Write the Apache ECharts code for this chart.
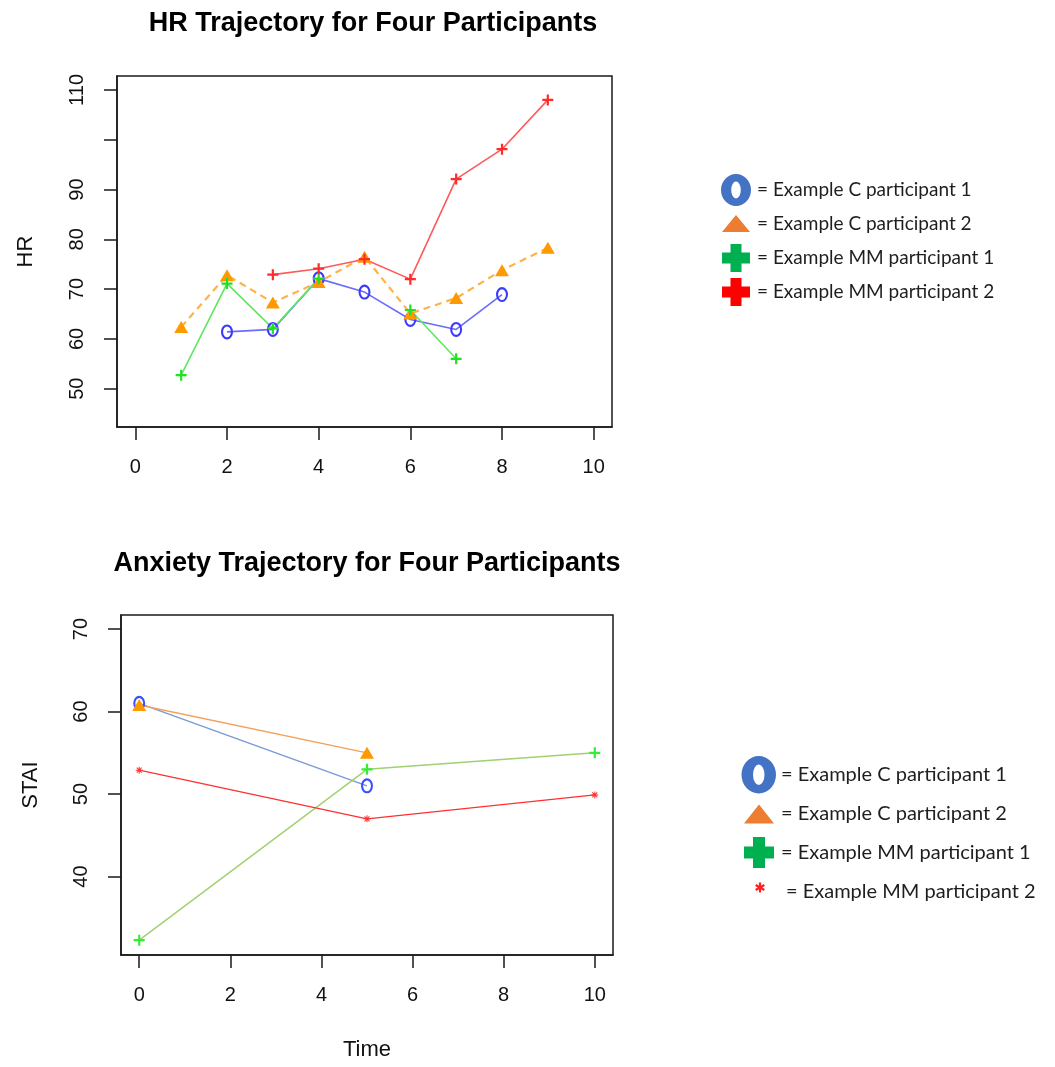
<!DOCTYPE html>
<html>
<head>
<meta charset="utf-8">
<title>HR and Anxiety Trajectory</title>
<script src="https://cdn.jsdelivr.net/npm/echarts@6/dist/echarts.min.js"></script>
<style>
    html, body { margin: 0; padding: 0; background: #fff; }
    #chart { width: 1055px; height: 1067px; }
</style>
</head>
<body>
<div id="chart"></div>
<script>
// series names (shared by both panels)
const names = [
    'Example C participant 1',
    'Example C participant 2',
    'Example MM participant 1',
    'Example MM participant 2'
];

// HR panel, time points 1..9 (null = no measure)
const hrTime = [1, 2, 3, 4, 5, 6, 7, 8, 9];
const hrC1 = [null, 61.4, 61.9, 72.1, 69.4, 63.9, 61.9, 68.9, null];
const hrC2 = [62.4, 72.8, 67.3, 71.4, 76.5, 65.1, 68.2, 73.8, 78.3];
const hrMM1 = [52.7, 71.1, 62.1, 72.1, null, 65.8, 56.0, null, null];
const hrMM2 = [null, null, 72.9, 74.1, 76.0, 72.0, 92.1, 98.1, 108.0];

// anxiety panel, time points 0, 5, 10
const anxTime = [0, 5, 10];
const anxC1 = [61.0, 51.0, null];
const anxC2 = [60.8, 55.0, null];
const anxMM1 = [32.3, 53.0, 55.0];
const anxMM2 = [52.9, 47.0, 49.9];

// tick labels
const timeTicks = [0, 2, 4, 6, 8, 10];
const hrTicks = [50, 60, 70, 80, 90, 100, 110];
const hrTickLabels = [50, 60, 70, 80, 90, 110];
const staiTicks = [40, 50, 60, 70];

const R_FONT = '"Liberation Sans", Arial, sans-serif';
const AXIS_COLOR = '#1a1a1a';

// --- little path helpers for the marker / legend shapes ---
const ellipse = (cx, cy, rx, ry, sweep) =>
    `M${cx - rx},${cy} A${rx},${ry} 0 1,${sweep} ${cx + rx},${cy} A${rx},${ry} 0 1,${sweep} ${cx - rx},${cy} Z`;

const ring = (cx, cy, rx, ry, irx, iry) => ellipse(cx, cy, rx, ry, 1) + ' ' + ellipse(cx, cy, irx, iry, 0);

const bar = (cx, cy, r, w, deg) => {
    const a = deg * Math.PI / 180;
    const dx = Math.cos(a), dy = Math.sin(a);
    const nx = -dy, ny = dx;
    const pts = [
        [cx - r * dx - w * nx, cy - r * dy - w * ny],
        [cx + r * dx - w * nx, cy + r * dy - w * ny],
        [cx + r * dx + w * nx, cy + r * dy + w * ny],
        [cx - r * dx + w * nx, cy - r * dy + w * ny]
    ];
    return 'M' + pts.map(p => p[0].toFixed(2) + ',' + p[1].toFixed(2)).join(' L') + ' Z';
};

const cross = (x0, y0, x1, y1, t) => {
    const mx = (x0 + x1) / 2, my = (y0 + y1) / 2;
    const a = mx - t / 2, b = mx + t / 2, c = my - t / 2, d = my + t / 2;
    return `M${a},${y0} L${b},${y0} L${b},${c} L${x1},${c} L${x1},${d} L${b},${d} L${b},${y1} L${a},${y1} L${a},${d} L${x0},${d} L${x0},${c} L${a},${c} Z`;
};

// invisible corner points so every legend icon keeps the same box
const box = (w, h) => `M0,0 L0,0 Z M${w},${h} L${w},${h} Z `;

const markO = 'path://' + ring(6, 7.5, 6, 7.5, 3.9, 5.4);
const markPlus = 'path://' + cross(0, 0, 10, 10, 2);
const markStar = 'path://' + [0, 45, 90, 135].map(d => bar(5, 5, 5, 0.7, d)).join(' ');

const pairs = (xs, ys) => xs.map((x, i) => [x, ys[i]]);

const lineSeries = (name, idx, xs, ys, opt) => ({
    name,
    type: 'line',
    xAxisIndex: idx,
    yAxisIndex: idx,
    data: pairs(xs, ys),
    symbol: opt.symbol,
    symbolSize: opt.size,
    showSymbol: true,
    connectNulls: false,
    itemStyle: { color: opt.mark, borderWidth: 0 },
    lineStyle: { color: opt.line, width: opt.width || 1.6, type: opt.dash || 'solid' },
    emphasis: { disabled: true },
    z: opt.z || 2
});

const makeXAxis = (gridIndex, name) => ({
    type: 'value',
    gridIndex,
    min: -0.4,
    max: 10.4,
    name: name || '',
    nameLocation: 'middle',
    nameGap: 84,
    nameTextStyle: { fontFamily: R_FONT, fontSize: 22, color: '#111' },
    axisLine: { show: true, onZero: false, lineStyle: { color: AXIS_COLOR, width: 1.5 } },
    axisTick: { show: true, length: 13, customValues: timeTicks, lineStyle: { color: AXIS_COLOR, width: 1.5 } },
    axisLabel: { customValues: timeTicks, margin: 30, fontFamily: R_FONT, fontSize: 20, color: '#111' },
    splitLine: { show: false }
});

const makeYAxis = (gridIndex, name, min, max, ticks, labels, gap) => ({
    type: 'value',
    gridIndex,
    min,
    max,
    name,
    nameLocation: 'middle',
    nameGap: gap,
    nameTextStyle: { fontFamily: R_FONT, fontSize: 22, color: '#111' },
    axisLine: { show: true, onZero: false, lineStyle: { color: AXIS_COLOR, width: 1.5 } },
    axisTick: { show: true, length: 13, customValues: ticks, lineStyle: { color: AXIS_COLOR, width: 1.5 } },
    axisLabel: { customValues: labels, rotate: 90, margin: 30, fontFamily: R_FONT, fontSize: 20, color: '#111' },
    splitLine: { show: false }
});

const legendText = size => ({ fontFamily: 'Lato, "Open Sans", sans-serif', fontSize: size, color: '#1e1e1e' });

const chart = echarts.init(document.getElementById('chart'));

chart.setOption({
    animation: false,
    backgroundColor: '#fff',
    title: [
        {
            text: 'HR Trajectory for Four Participants',
            left: 373, top: 10, textAlign: 'center', padding: 0,
            textStyle: { fontFamily: R_FONT, fontWeight: 'bold', fontSize: 27, color: '#000' }
        },
        {
            text: 'Anxiety Trajectory for Four Participants',
            left: 367, top: 550, textAlign: 'center', padding: 0,
            textStyle: { fontFamily: R_FONT, fontWeight: 'bold', fontSize: 27, color: '#000' }
        }
    ],
    grid: [
        { left: 117, top: 76, width: 495, height: 351, show: true, borderColor: AXIS_COLOR, borderWidth: 1.5, containLabel: false },
        { left: 121, top: 615, width: 492, height: 340, show: true, borderColor: AXIS_COLOR, borderWidth: 1.5, containLabel: false }
    ],
    xAxis: [makeXAxis(0), makeXAxis(1, 'Time')],
    yAxis: [
        makeYAxis(0, 'HR', 42.3, 112.8, hrTicks, hrTickLabels, 80),
        makeYAxis(1, 'STAI', 30.5, 71.7, staiTicks, staiTicks, 79)
    ],
    legend: [
        {
            orient: 'vertical',
            left: 719,
            top: 174,
            itemWidth: 33,
            itemHeight: 32,
            itemGap: 2,
            selectedMode: false,
            padding: 0,
            formatter: n => '= ' + n,
            textStyle: legendText(19),
            itemStyle: { borderWidth: 0 },
            data: [
                { name: names[0], icon: 'path://' + box(33, 32) + ring(17, 16, 15, 16, 4.8, 8.5), itemStyle: { color: '#4472c4' } },
                { name: names[1], icon: 'path://' + box(33, 32) + 'M3,24 L17,7 L31,24 Z', itemStyle: { color: '#ed7d31' } },
                { name: names[2], icon: 'path://' + box(33, 32) + cross(3, 2, 31, 30, 11), itemStyle: { color: '#00b050' } },
                { name: names[3], icon: 'path://' + box(33, 32) + cross(3, 2, 31, 30, 11), itemStyle: { color: '#ff0000' } }
            ]
        },
        {
            orient: 'vertical',
            left: 741,
            top: 756,
            itemWidth: 35,
            itemHeight: 38,
            itemGap: 1,
            selectedMode: false,
            padding: 0,
            formatter: n => '= ' + n,
            textStyle: legendText(20),
            itemStyle: { borderWidth: 0 },
            data: [
                { name: names[0], icon: 'path://' + box(35, 38) + ring(18, 19, 17.5, 19, 5.8, 10.5), itemStyle: { color: '#4472c4' } },
                { name: names[1], icon: 'path://' + box(35, 38) + 'M3,29 L18,10 L33,29 Z', itemStyle: { color: '#ed7d31' } },
                { name: names[2], icon: 'path://' + box(35, 38) + cross(3, 3.5, 33, 34.5, 12), itemStyle: { color: '#00b050' } },
                {
                    name: names[3],
                    icon: 'path://' + box(35, 38) + [90, 30, 150].map(d => bar(19, 15, 5, 1.1, d)).join(' '),
                    itemStyle: { color: '#ff2020' },
                    textStyle: { padding: [10, 0, 0, 5] }
                }
            ]
        }
    ],
    series: [
        // HR panel
        lineSeries(names[0], 0, hrTime, hrC1, { symbol: markO, size: [12, 15], mark: '#3a3aff', line: '#6b6bff' }),
        lineSeries(names[1], 0, hrTime, hrC2, { symbol: 'triangle', size: [14, 12], mark: '#ff9900', line: '#ffb347', width: 2.2, dash: [7, 5] }),
        lineSeries(names[2], 0, hrTime, hrMM1, { symbol: markPlus, size: 11, mark: '#22e022', line: '#5ee85e' }),
        lineSeries(names[3], 0, hrTime, hrMM2, { symbol: markPlus, size: 11, mark: '#ff2a2a', line: '#ff5a5a' }),
        // anxiety panel
        lineSeries(names[0], 1, anxTime, anxC1, { symbol: markO, size: [12, 15], mark: '#3a50ff', line: '#7a9ad6', width: 1.4 }),
        lineSeries(names[1], 1, anxTime, anxC2, { symbol: 'triangle', size: [14, 12], mark: '#ff9900', line: '#f5a05a', width: 1.4 }),
        lineSeries(names[2], 1, anxTime, anxMM1, { symbol: markPlus, size: 11, mark: '#33ee33', line: '#a0d070', width: 1.4 }),
        lineSeries(names[3], 1, anxTime, anxMM2, { symbol: markStar, size: 7, mark: '#ff3030', line: '#ff3030', width: 1.4 })
    ]
});
</script>
</body>
</html>
